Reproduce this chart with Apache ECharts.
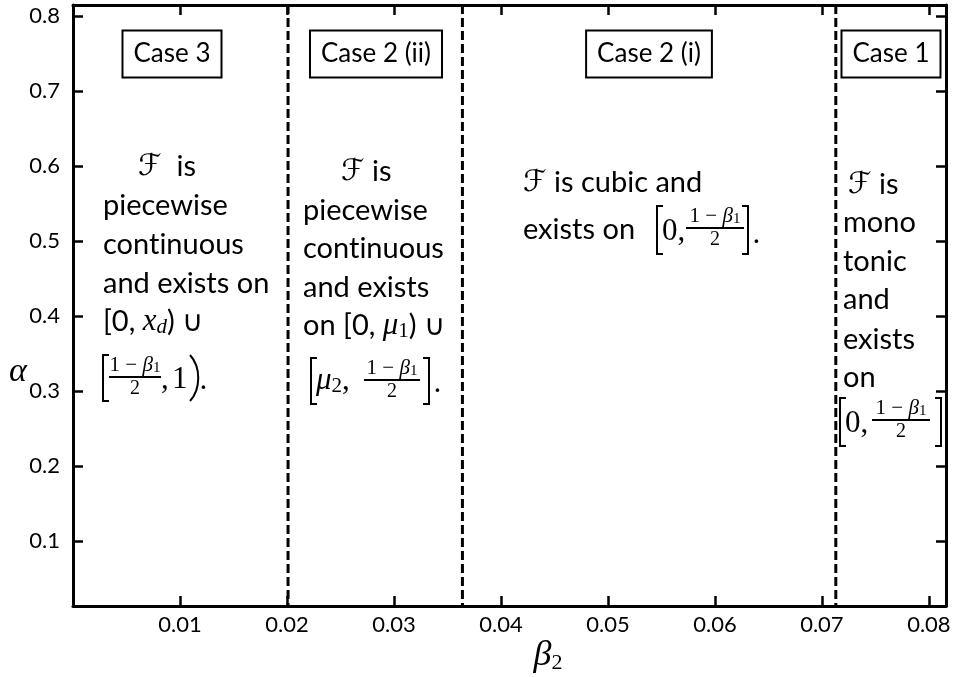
<!DOCTYPE html>
<html>
<head>
<meta charset="utf-8">
<script src="https://cdn.jsdelivr.net/npm/echarts@6/dist/echarts.min.js"></script>
<style>
  html, body { margin: 0; padding: 0; background: #fff; }
  #chart { width: 958px; height: 677px; }
</style>
</head>
<body>
<div id="chart"></div>
<script>
// Tick values on both axes
const xTicks = [0.01, 0.02, 0.03, 0.04, 0.05, 0.06, 0.07, 0.08];
const yTicks = [0.1, 0.2, 0.3, 0.4, 0.5, 0.6, 0.7, 0.8];
// β2 values separating the regimes
const boundaries = [0.0201, 0.0364, 0.0713];
// Case labels and the β2 at which each label box is centred
const caseNames = ['Case 3', 'Case 2 (ii)', 'Case 2 (i)', 'Case 1'];
const caseCenters = [0.0093, 0.0283, 0.0538, 0.0765];
const caseAlpha = 0.7487;

const X_MIN = 0, X_MAX = 0.0816, Y_MIN = 0.0133, Y_MAX = 0.8147;

const SANS = 'Lato, "Open Sans", sans-serif';
const MATH = '"Liberation Serif", "DejaVu Serif", serif';
const SCRIPT = '"DejaVu Serif", "DejaVu Sans", serif';
const BODY = 29;
// zero-width non-joiner keeps "t" and "i" as separate glyphs
const CONTINUOUS = 'cont\u200Cinuous';

const chart = echarts.init(document.getElementById('chart'), null, { renderer: 'canvas' });

const axisLine = { show: true, onZero: false, lineStyle: { color: '#000', width: 3 } };
const tick = (vals) => ({ show: true, inside: true, length: 10, customValues: vals, lineStyle: { color: '#000', width: 2.5 } });

chart.setOption({
  animation: false,
  backgroundColor: '#fff',
  grid: { left: 73, right: 12, top: 5, bottom: 71, outerBoundsMode: 'none', containLabel: false },
  xAxis: [
    {
      type: 'value', min: X_MIN, max: X_MAX, position: 'bottom',
      axisLine, axisTick: tick(xTicks), splitLine: { show: false },
      axisLabel: { customValues: xTicks, formatter: v => v.toFixed(2), color: '#000', fontSize: 22, fontFamily: SANS, margin: 8 }
    },
    {
      type: 'value', min: X_MIN, max: X_MAX, position: 'top',
      axisLine, axisTick: tick(xTicks), splitLine: { show: false }, axisLabel: { show: false }
    }
  ],
  yAxis: [
    {
      type: 'value', min: Y_MIN, max: Y_MAX, position: 'left',
      axisLine, axisTick: tick(yTicks), splitLine: { show: false },
      axisLabel: { customValues: yTicks, formatter: v => v.toFixed(1), color: '#000', fontSize: 22, fontFamily: SANS, margin: 13 }
    },
    {
      type: 'value', min: Y_MIN, max: Y_MAX, position: 'right',
      axisLine, axisTick: tick(yTicks), splitLine: { show: false }, axisLabel: { show: false }
    }
  ],
  // one dashed vertical line per boundary, spanning the full α range
  series: boundaries.map(b => ({
    type: 'line', xAxisIndex: 0, yAxisIndex: 0, silent: true, symbol: 'none',
    lineStyle: { color: '#000', width: 3, type: [9, 4] },
    data: [[b, Y_MAX], [b, Y_MIN]]
  }))
});

// ---- text annotations ----
const richBase = {
  F: { fontFamily: SCRIPT, fontSize: 30, fill: '#000' },
  m: { fontFamily: MATH, fontStyle: 'italic', fontSize: 31, fill: '#000' },
  r: { fontFamily: MATH, fontSize: 31, fill: '#000' },
  sub: { fontFamily: MATH, fontSize: 21, fill: '#000', verticalAlign: 'bottom', lineHeight: 14 },
  subi: { fontFamily: MATH, fontStyle: 'italic', fontSize: 21, fill: '#000', verticalAlign: 'bottom', lineHeight: 14 }
};
const g = [];
function txt(x, y, text, opts) {
  g.push(Object.assign({
    type: 'text', x, y, silent: true,
    style: { text, fill: '#000', fontFamily: SANS, fontSize: BODY, verticalAlign: 'middle', align: 'left', rich: richBase }
  }, opts || {}));
}
function bracket(x, yTop, yBot, open) {
  const d = open ? 6 : -6;
  g.push({ type: 'polyline', silent: true, shape: { points: [[x + d, yTop], [x, yTop], [x, yBot], [x + d, yBot]] }, style: { stroke: '#000', lineWidth: 2, fill: null } });
}
function paren(x, yTop, yBot) {
  g.push({ type: 'bezierCurve', silent: true, shape: { x1: x, y1: yTop, cpx1: x + 11, cpy1: yTop + 12, cpx2: x + 11, cpy2: yBot - 12, x2: x, y2: yBot }, style: { stroke: '#000', lineWidth: 2, fill: null } });
}
function fraction(cx, cy, w) {
  g.push({ type: 'text', x: cx, y: cy - 1, silent: true, style: { text: '1 − {m|β}{s|1}', fill: '#000', fontFamily: MATH, fontSize: 21, align: 'center', verticalAlign: 'bottom', rich: { m: { fontFamily: MATH, fontStyle: 'italic', fontSize: 21 }, s: { fontFamily: MATH, fontSize: 15, verticalAlign: 'bottom', lineHeight: 12 } } } });
  g.push({ type: 'line', silent: true, shape: { x1: cx - w / 2, y1: cy, x2: cx + w / 2, y2: cy }, style: { stroke: '#000', lineWidth: 1.8 } });
  g.push({ type: 'text', x: cx, y: cy + 2, silent: true, style: { text: '2', fill: '#000', fontFamily: MATH, fontSize: 20, align: 'center', verticalAlign: 'top' } });
}

// Case 3 block
txt(138, 167, '{F|ℱ}  is');
txt(103, 206, 'piecewise');
txt(103, 245, CONTINUOUS);
txt(103, 284, 'and exists on');
txt(103, 322, '[0, {m|x}{subi|d}) ∪');
bracket(103, 355, 401, true);
fraction(135, 377, 52);
txt(161, 380, '{r|,}');
txt(172, 380, '{r|1}');
paren(190, 355, 401);
txt(200, 380, '.');

// Case 2 (ii) block
txt(341, 172, '{F|ℱ} is');
txt(303, 211, 'piecewise');
txt(303, 249, CONTINUOUS);
txt(303, 288, 'and exists');
txt(303, 326, 'on [0, {m|μ}{sub|1}) ∪');
bracket(311, 358, 404, true);
txt(316, 381, '{m|μ}{sub|2}{r|,}');
fraction(392, 380, 56);
bracket(429, 358, 404, false);
txt(434, 383, '.');

// Case 2 (i) block
txt(523, 183, '{F|ℱ} is cubic and');
txt(523, 230, 'exists on');
bracket(657, 206, 254, true);
txt(662, 232, '{r|0,}');
fraction(715, 228, 58);
bracket(748, 206, 254, false);
txt(753, 234, '.');

// Case 1 block
txt(848, 185, '{F|ℱ} is');
txt(843, 223, 'mono');
txt(843, 262, 'tonic');
txt(843, 300, 'and');
txt(843, 340, 'exists');
txt(843, 378, 'on');
bracket(840, 398, 446, true);
txt(845, 424, '{r|0,}');
fraction(901, 420, 58);
bracket(941, 398, 446, false);

// Case label boxes, centred on their β2 positions
caseNames.forEach((name, i) => {
  const [px, py] = chart.convertToPixel({ xAxisIndex: 0, yAxisIndex: 0 }, [caseCenters[i], caseAlpha]);
  g.push({
    type: 'text', x: Math.round(px), y: Math.round(py), silent: true, z: 10,
    style: {
      text: name, fill: '#000', fontFamily: SANS, fontSize: 26, lineHeight: 26,
      align: 'center', verticalAlign: 'middle',
      backgroundColor: '#fff', borderColor: '#000', borderWidth: 2, padding: [9, 10, 10, 10]
    }
  });
});

// Axis titles
g.push({ type: 'text', x: 18, y: 372, silent: true, style: { text: 'α', fill: '#000', fontFamily: MATH, fontStyle: 'italic', fontSize: 34, align: 'center', verticalAlign: 'middle' } });
g.push({ type: 'text', x: 548, y: 656, silent: true, style: { text: '{b|β}{s|2}', fill: '#000', align: 'center', verticalAlign: 'middle', rich: { b: { fontFamily: MATH, fontStyle: 'italic', fontSize: 36 }, s: { fontFamily: MATH, fontSize: 22, verticalAlign: 'bottom', lineHeight: 20 } } } });

chart.setOption({ graphic: g });
</script>
</body>
</html>
